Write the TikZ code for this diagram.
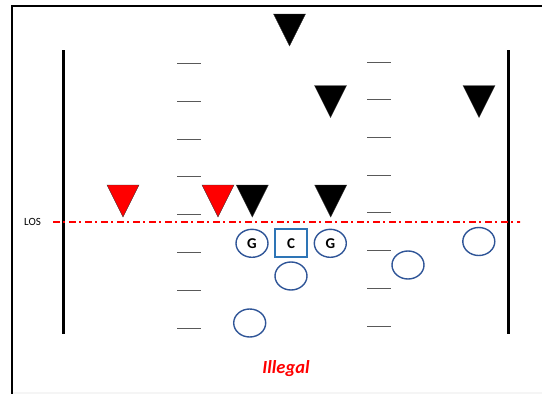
\documentclass[tikz,border=0pt]{standalone}
\usepackage{fontspec}
\setmainfont{Carlito}
\usetikzlibrary{shapes.geometric}
\definecolor{ringblue}{HTML}{2F5597}
\definecolor{boxblue}{HTML}{2E75B6}
\definecolor{hashgray}{HTML}{595959}
\definecolor{losred}{HTML}{FF0000}
\tikzset{
  x=1pt, y=-1pt,
  frame/.style={line width=2pt, draw=black},
  sideline/.style={line width=3pt, draw=black},
  hash/.style={line width=1pt, draw=hashgray},
  player/.style={ellipse, draw=ringblue, line width=1.4pt, minimum width=32pt, minimum height=28pt, inner sep=0pt, font=\fontsize{15}{15}\selectfont\bfseries},
  cbox/.style={rectangle, draw=boxblue, line width=1.8pt, minimum width=32pt, minimum height=28pt, inner sep=0pt, font=\fontsize{15}{15}\selectfont\bfseries},
  defender/.pic={\fill[#1, draw=black!80, line width=0.4pt] (-16,-16) -- (16,-16) -- (0,16) -- cycle;}
}
\begin{document}
\begin{tikzpicture}
\useasboundingbox (0,0) rectangle (542,394);
% page frame
\fill[black!4] (13,392) rectangle (542,394);
\draw[frame] (12,394) -- (12,6) -- (542,6);
% sidelines
\draw[sideline] (63.5,50) -- (63.5,334);
\draw[sideline] (508.5,50) -- (508.5,334);
% hash marks
\foreach \y in {63,101,139,176.5,214.5,252.5,290,328}
  \draw[hash] (177,\y) -- (200.5,\y);
\foreach \y in {62,99.7,137.3,175,212.7,250.7,288.3,326}
  \draw[hash] (367,\y) -- (390.5,\y);
% line of scrimmage: dash-dot, drawn piece by piece
\begin{scope}
  \clip (52.5,215) rectangle (520,228);
  \foreach \s in {0,16,...,464}{
    \fill[losred] (52.5+\s,220.5) rectangle (59.5+\s,222.5);
    \fill[losred] (62.5+\s,220.5) rectangle (65+\s,222.5);
  }
\end{scope}
\node[font=\fontsize{11}{11}\selectfont, anchor=center] (lostext) at (32.5,221.5) {LOS};
% defense
\pic at (289.5,30) {defender=black};
\pic at (330.5,101.5) {defender=black};
\pic at (479,101.5) {defender=black};
\pic at (123,201) {defender=losred};
\pic at (218,201) {defender=losred};
\pic at (252.3,201) {defender=black};
\pic at (330.7,201) {defender=black};
% offense
\node[player] (lg) at (252,243.3) {G};
\node[cbox] (c) at (291,243.3) {C};
\node[player] (rg) at (330.3,243.3) {G};
\node[player] (qb) at (291,276) {};
\node[player] (rb) at (249.7,323) {};
\node[player] (slot) at (408,265) {};
\node[player] (wr) at (478.8,241.5) {};
% caption
\node[text=losred, font=\fontsize{18.5}{18.5}\selectfont\bfseries\itshape] (caption) at (286,369) {Illegal};
\end{tikzpicture}
\end{document}
